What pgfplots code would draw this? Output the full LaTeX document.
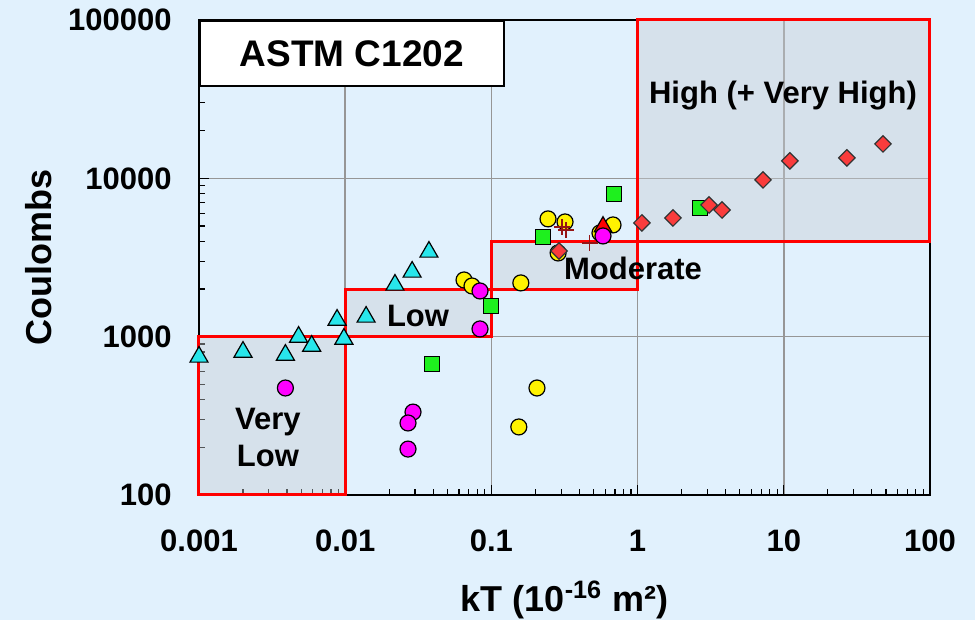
\documentclass[border=0pt]{standalone}
\usepackage{fontspec}
\setmainfont{Liberation Sans}
\usepackage{pgfplots}
\pgfplotsset{compat=1.18}
\usetikzlibrary{calc,backgrounds}

\definecolor{bgblue}{RGB}{225,241,253}
\definecolor{gridgray}{RGB}{150,150,150}
\definecolor{cyanmk}{RGB}{40,230,235}
\definecolor{greenmk}{RGB}{30,240,30}
\definecolor{redmk}{RGB}{250,60,60}
\definecolor{magmk}{RGB}{255,0,255}
\definecolor{plusred}{RGB}{150,20,20}
\definecolor{zonefill}{RGB}{200,205,212}

\begin{document}
\begin{tikzpicture}
\begin{axis}[
  name=ax,
  scale only axis,
  width=365.5pt, height=237.5pt,
  xmode=log, ymode=log,
  xmin=0.001, xmax=100, ymin=100, ymax=100000,
  clip=false,
  xtick={0.001,0.01,0.1,1,10,100},
  xticklabels={0.001,0.01,0.1,1,10,100},
  ytick={100,1000,10000,100000},
  yticklabels={100,1000,10000,100000},
  minor xtick={0.002,0.003,0.004,0.005,0.006,0.007,0.008,0.009,
    0.02,0.03,0.04,0.05,0.06,0.07,0.08,0.09,
    0.2,0.3,0.4,0.5,0.6,0.7,0.8,0.9,
    2,3,4,5,6,7,8,9,20,30,40,50,60,70,80,90},
  minor ytick={200,300,400,500,600,700,800,900,
    2000,3000,4000,5000,6000,7000,8000,9000,
    20000,30000,40000,50000,60000,70000,80000,90000},
  grid=major,
  major grid style={gridgray, line width=0.75pt},
  tick pos=left,
  tick align=inside,
  major tick length=5pt,
  minor tick length=3pt,
  tick style={black, line width=0.6pt},
  axis line style={black, line width=1pt},
  ticklabel style={font=\fontsize{15.5}{18}\selectfont\bfseries},
  xticklabel style={anchor=center, inner sep=0pt, yshift=-23pt},
  yticklabel style={anchor=east, inner sep=0pt, xshift=-13.5pt},
  xlabel={kT (10\textsuperscript{-16} m²)},
  ylabel={Coulombs},
  xlabel style={font=\fontsize{18}{21}\selectfont\bfseries,
    at={(axis description cs:0.5,-0.221)}, anchor=center},
  ylabel style={font=\fontsize{18}{21}\selectfont\bfseries,
    at={(axis description cs:-0.22,0.5)}, anchor=center},
]
% yellow circles
\addplot[only marks, mark=*, mark size=4pt,
  mark options={fill=yellow, draw=black, line width=0.6pt}]
  coordinates {(0.065,2281)(0.0737,2090)(0.244,5544)(0.319,5304)(0.159,2185)
    (0.205,474)(0.154,269)(0.679,5079)(0.553,4520)(0.286,3378)};
% green squares
\addplot[only marks, mark=square*, mark size=3.75pt,
  mark options={fill=greenmk, draw=black, line width=0.6pt}]
  coordinates {(0.69,7969)(0.225,4265)(0.0994,1563)(0.0392,672)(2.67,6502)};
% red triangle
\addplot[only marks, mark=triangle*, mark size=5pt,
  mark options={fill=red, draw=black, line width=0.6pt}]
  coordinates {(0.58,4950)};
% red diamonds
\addplot[only marks, mark=square*, mark size=2.9pt,
  mark options={fill=redmk, draw=black!80, line width=0.6pt, rotate=45}]
  coordinates {(0.29,3478)(1.07,5229)(1.746,5620)(3.08,6790)(3.78,6313)
    (7.21,9775)(11.0,12890)(27.0,13460)(47.7,16500)};
% magenta circles
\addplot[only marks, mark=*, mark size=4pt,
  mark options={fill=magmk, draw=black, line width=0.6pt}]
  coordinates {(0.0039,474)(0.0291,334)(0.0269,285)(0.0269,195)
    (0.0836,1944)(0.0836,1119)(0.58,4326)};
% cyan triangles
\addplot[only marks, mark=triangle*, mark size=5.2pt,
  mark options={fill=cyanmk, draw=black, line width=0.6pt}]
  coordinates {(0.001,745)(0.002,800)(0.0039,766)(0.0048,995)(0.0059,873)
    (0.0088,1275)(0.0098,967)(0.0139,1332)(0.0219,2122)(0.0287,2563)(0.0374,3428)};
% plus marks
\addplot[only marks, mark=+, mark size=4pt,
  mark options={draw=plusred, line width=0.8pt}]
  coordinates {(0.304,4931)(0.324,4721)(0.47,3909)};

% permeability zones
\addplot[draw=red, line width=1.5pt, fill=zonefill, fill opacity=0.42]
  coordinates {(0.001,100)(0.01,100)(0.01,1000)(0.001,1000)} -- cycle;
\addplot[draw=red, line width=1.5pt, fill=zonefill, fill opacity=0.42]
  coordinates {(0.01,1000)(0.1,1000)(0.1,2000)(0.01,2000)} -- cycle;
\addplot[draw=red, line width=1.5pt, fill=zonefill, fill opacity=0.42]
  coordinates {(0.1,2000)(1,2000)(1,4000)(0.1,4000)} -- cycle;
\addplot[draw=red, line width=1.5pt, fill=zonefill, fill opacity=0.42]
  coordinates {(1,4000)(100,4000)(100,100000)(1,100000)} -- cycle;

\node[font=\fontsize{15.5}{18.5}\selectfont\bfseries, align=center]
  at (axis cs:0.00296,232) {Very\\Low};
\node[font=\fontsize{15.5}{18.5}\selectfont\bfseries]
  at (axis cs:0.0315,1352) {Low};
\node[font=\fontsize{15.5}{18.5}\selectfont\bfseries]
  at (axis cs:0.931,2716) {Moderate};
\node[font=\fontsize{15.5}{18.5}\selectfont\bfseries]
  at (axis cs:9.88,33170) {High (+ Very High)};

\node[draw=black, fill=white, line width=0.8pt, anchor=north west,
  minimum width=152pt, minimum height=32.5pt, inner sep=0pt,
  font=\fontsize{18.5}{22}\selectfont\bfseries]
  at (axis cs:0.001,100000) {ASTM C1202};
\end{axis}

\begin{scope}[on background layer]
  \fill[bgblue] ($(ax.south west)+(-99.5pt,-62.5pt)$) rectangle ($(ax.north east)+(22.5pt,10pt)$);
\end{scope}
\pgfresetboundingbox
\path[use as bounding box] ($(ax.south west)+(-99.5pt,-62.5pt)$) rectangle ($(ax.north east)+(22.5pt,10pt)$);
\end{tikzpicture}
\end{document}
